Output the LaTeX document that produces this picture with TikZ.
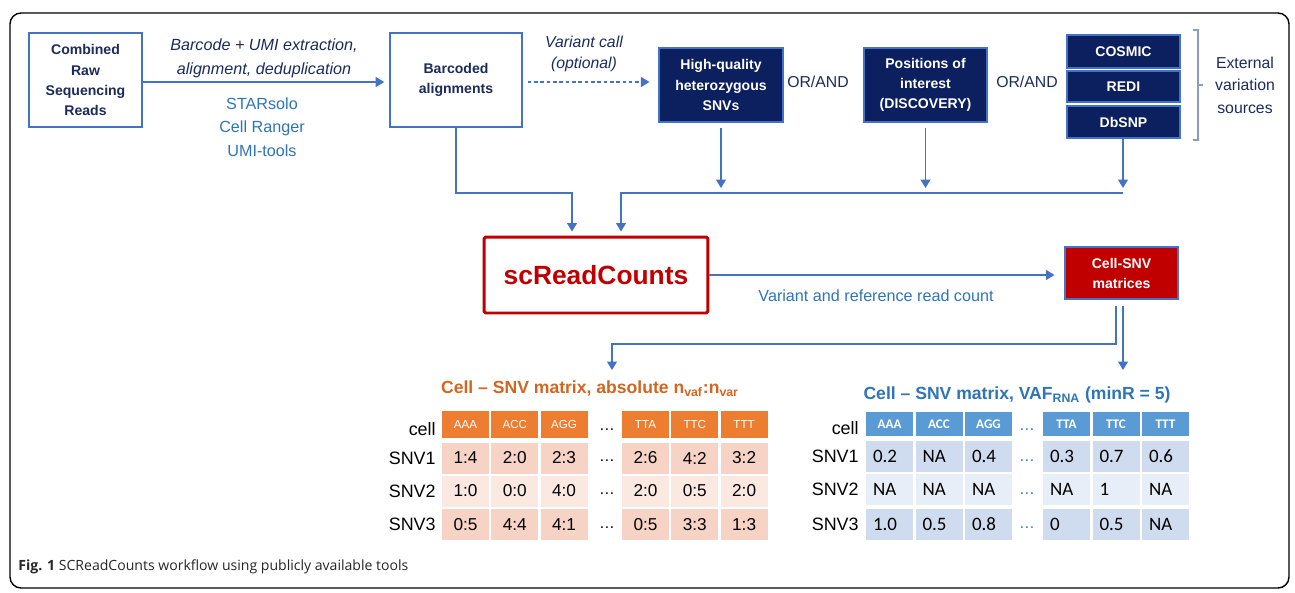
\documentclass[tikz,border=0pt]{standalone}
\usepackage{fontspec}
\setmainfont{Liberation Sans}
\newfontfamily\capfont{Open Sans}
\newfontfamily\calfont{Carlito}
\usetikzlibrary{arrows.meta,calc}

\begin{document}
\begin{tikzpicture}[x=0.02cm,y=-0.02cm,
    link/.style={draw=lineblue, line width=0.75pt, -{Triangle[width=0.2cm,length=0.17cm]}},
    lightbox/.style={draw=lineblue, line width=0.9pt, fill=white, text=navytext, align=center, inner sep=0pt, font=\fontsize{8}{11.4}\selectfont\bfseries},
    darkbox/.style={draw=lineblue, line width=0.6pt, fill=navybox, text=white, align=center, inner sep=0pt, font=\fontsize{8}{11.4}\selectfont\bfseries},
    note/.style={align=center, inner sep=0pt, font=\fontsize{9.2}{13.4}\selectfont},
    rowlab/.style={anchor=east, inner sep=0pt, font=\fontsize{10.2}{12}\selectfont},
    lcell/.style={minimum width=0.94cm, minimum height=0.62cm, inner sep=0pt, font=\fontsize{9.8}{12}\selectfont},
    lhcell/.style={lcell, minimum height=0.54cm, fill=orangehead, text=white, font=\fontsize{6.6}{8}\selectfont},
    rcell/.style={minimum height=0.62cm, inner xsep=0.14cm, inner ysep=0pt, text width=0.66cm, align=left, font=\calfont\fontsize{10.8}{12}\selectfont},
    rhcell/.style={minimum width=0.94cm, minimum height=0.48cm, inner sep=0pt, fill=bluehead, text=white, font=\calfont\fontsize{7.5}{9}\selectfont\bfseries},
    celldots/.style={inner sep=0pt, font=\fontsize{9}{10}\selectfont}
]
        % Define colours
        \definecolor{lineblue}{HTML}{4472C4}
        \definecolor{navybox}{HTML}{0C1F5E}
        \definecolor{navytext}{HTML}{1C2B5E}
        \definecolor{toolblue}{HTML}{2E75B6}
        \definecolor{redbox}{HTML}{C00000}
        \definecolor{orangehead}{HTML}{ED7D31}
        \definecolor{orangetitle}{HTML}{D2651F}
        \definecolor{rowLa}{HTML}{F6D3C5}
        \definecolor{rowLb}{HTML}{FBE8E1}
        \definecolor{bluehead}{HTML}{5B9BD5}
        \definecolor{rowRa}{HTML}{CFDBEE}
        \definecolor{rowRb}{HTML}{E8EEF7}
        \definecolor{bracegray}{HTML}{8C9BC2}

        \useasboundingbox (0,0) rectangle (1295,592);

        % Draw outer frame and caption
        \draw[line width=0.8pt, rounded corners=0.22cm] (10,13) rectangle (1289,588);
        \node[anchor=west, inner sep=0pt, text=black!85, font=\capfont\fontsize{8}{10}\selectfont] (caption) at (18,567) {\textbf{Fig. 1} SCReadCounts workflow using publicly available tools};

        % Draw top row of boxes
        \node[lightbox, minimum width=2.26cm, minimum height=1.88cm] (raw) at (85.5,80) {Combined\\Raw\\Sequencing\\Reads};
        \node[lightbox, minimum width=2.64cm, minimum height=1.88cm] (barcoded) at (456,80) {Barcoded\\alignments};
        \node[darkbox, minimum width=2.48cm, minimum height=1.48cm] (hqsnv) at (721,85) {High-quality\\heterozygous\\SNVs};
        \node[darkbox, minimum width=2.46cm, minimum height=1.48cm] (poi) at (925.5,85) {Positions of\\interest\\(DISCOVERY)};
        \node[darkbox, minimum width=2.26cm, minimum height=0.66cm] (cosmic) at (1123.5,51.5) {COSMIC};
        \node[darkbox, minimum width=2.26cm, minimum height=0.62cm] (redi) at (1123.5,86.5) {REDI};
        \node[darkbox, minimum width=2.26cm, minimum height=0.64cm] (dbsnp) at (1123.5,122) {DbSNP};

        % Labels of the top row
        \node[note, text=navytext, font=\fontsize{9.2}{13.7}\selectfont\itshape] (extract) at (264,58) {Barcode + UMI extraction,\\alignment, deduplication};
        \node[note, text=toolblue] (tools) at (262,127) {STARsolo\\Cell Ranger\\UMI-tools};
        \node[note, text=navytext, font=\fontsize{9}{11.6}\selectfont\itshape] (vcall) at (584,54) {Variant call\\(optional)};
        \node[note, text=navytext, font=\fontsize{9}{11}\selectfont] (orand1) at (818,82) {OR/AND};
        \node[note, text=navytext, font=\fontsize{9}{11}\selectfont] (orand2) at (1027,82) {OR/AND};
        \node[note, text=navytext, font=\fontsize{9}{12.8}\selectfont] (extsrc) at (1245,85) {External\\variation\\sources};
        \draw[bracegray, line width=0.6pt] (1193,30) -- (1198,30) -- (1198,140) -- (1193,140);
        \draw[bracegray, line width=0.6pt] (1198,85) -- (1203,85);

        % Draw main tool and output boxes
        \node[draw=redbox, line width=1.7pt, rounded corners=1pt, text=redbox, minimum width=4.48cm, minimum height=1.52cm, font=\fontsize{15}{18}\selectfont\bfseries] (screads) at (596,275) {scReadCounts};
        \node[darkbox, fill=redbox, minimum width=2.26cm, minimum height=1.04cm] (cellsnv) at (1121.5,273) {Cell-SNV\\matrices};
        \node[note, text=toolblue] (readcount) at (876,296) {Variant and reference read count};

        % Connectors
        \coordinate (busL) at (621,193);
        \coordinate (busR) at (1123,193);
        \coordinate (bend) at (572,193);
        \coordinate (lturn) at (612,344);
        \coordinate (ltab) at (612,370);
        \coordinate (rtab) at (1123,370);
        \draw[link, shorten >=0.1cm] (raw.east |- 0,82) -- (barcoded.west |- 0,82);
        \draw[link, dash pattern=on 2pt off 1.6pt, shorten <=0.1cm, shorten >=0.18cm] (barcoded.east |- 0,82) -- (hqsnv.west |- 0,82);
        \draw[link, shorten <=0.1cm, shorten >=0.1cm] (hqsnv.south) -- (hqsnv.south |- busR);
        \draw[link, shorten <=0.1cm, shorten >=0.1cm] (poi.south) -- (poi.south |- busR);
        \draw[link, shorten >=0.1cm] (busR |- dbsnp.south) -- (busR);
        \draw[link, shorten >=0.08cm] (busR) -- (busL) -- (busL |- screads.north);
        \draw[link, shorten >=0.08cm] (barcoded.south) |- (bend) -- (bend |- screads.north);
        \draw[link, shorten >=0.2cm] (screads.east) -- (screads.east -| cellsnv.west);
        \draw[link, shorten <=0.12cm] (cellsnv.south -| 1116,0) |- (lturn) -- (ltab);
        \draw[link, shorten <=0.12cm] (rtab |- cellsnv.south) -- (rtab);

        % Draw left matrix (absolute counts)
        \node[inner sep=0pt, text=orangetitle, font=\fontsize{10}{12}\selectfont\bfseries] (ltitle) at (590,389) {Cell – SNV matrix, absolute n\textsubscript{vaf}:n\textsubscript{var}};
        \node[rowlab] (lcellrow) at (436,429) {cell};
        \foreach \h [count=\j] in {AAA,ACC,AGG,TTA,TTC,TTT} {
            \pgfmathsetmacro\cx{465.5+49.3*(\j-1)+32.1*(\j>3)}
            \node[lhcell] (lh-\j) at (\cx,424.5) {\h};
        }
        \node[celldots] (lhdots) at (607,430) {\dots};
        \foreach \y/\rc/\vals [count=\i] in {458/rowLa/{1:4,2:0,2:3,2:6,4:2,3:2},491/rowLb/{1:0,0:0,4:0,2:0,0:5,2:0},524.5/rowLa/{0:5,4:4,4:1,0:5,3:3,1:3}} {
            \node[rowlab] (lrow-\i) at (436,\y) {SNV\i};
            \node[celldots] (ldots-\i) at (607,\y+3) {\dots};
            \foreach \v [count=\j] in \vals {
                \pgfmathsetmacro\cx{465.5+49.3*(\j-1)+32.1*(\j>3)}
                \node[lcell, fill=\rc] (lc-\i-\j) at (\cx,\y) {\v};
            }
        }

        % Draw right matrix (VAF)
        \node[inner sep=0pt, text=toolblue, font=\fontsize{10}{12}\selectfont\bfseries] (rtitle) at (1017,395) {Cell – SNV matrix, VAF\textsubscript{RNA} (minR = 5)};
        \node[rowlab] (rcellrow) at (859,428) {cell};
        \foreach \h [count=\j] in {AAA,ACC,AGG,TTA,TTC,TTT} {
            \pgfmathsetmacro\cx{889.5+49.5*(\j-1)+28.5*(\j>3)}
            \node[rhcell] (rh-\j) at (\cx,424) {\h};
        }
        \node[celldots, text=toolblue] (rhdots) at (1027,430) {\dots};
        \foreach \y/\rc/\vals [count=\i] in {456.5/rowRa/{0.2,NA,0.4,0.3,0.7,0.6},489.5/rowRb/{NA,NA,NA,NA,1,NA},524/rowRa/{1.0,0.5,0.8,0,0.5,NA}} {
            \node[rowlab] (rrow-\i) at (859,\y) {SNV\i};
            \node[celldots, text=toolblue] (rdots-\i) at (1027,\y+4) {\dots};
            \foreach \v [count=\j] in \vals {
                \pgfmathsetmacro\cx{889.5+49.5*(\j-1)+28.5*(\j>3)}
                \node[rcell, fill=\rc] (rc-\i-\j) at (\cx,\y) {\v};
            }
        }
\end{tikzpicture}
\end{document}
